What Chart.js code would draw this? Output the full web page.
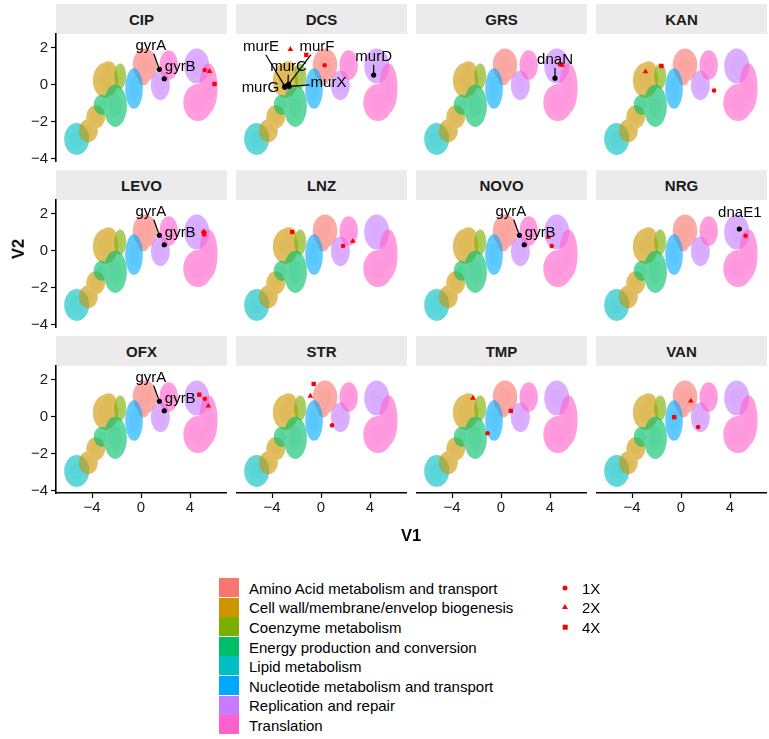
<!DOCTYPE html>
<html>
<head>
<meta charset="utf-8">
<script src="https://cdn.jsdelivr.net/npm/chart.js@4.4.1/dist/chart.umd.min.js"></script>
<style>
  html, body { margin: 0; background: #fff; }
  #fig { position: relative; width: 769px; height: 739px; overflow: hidden;
         font-family: "Liberation Sans", Arial, sans-serif; color: #000; }
  .strip { position: absolute; background: #ebebeb; font-weight: bold; font-size: 15px; color: #1a1a1a;
           display: flex; align-items: center; justify-content: center; }
  .panel { position: absolute; }
  .title { position: absolute; font-weight: bold; font-size: 16.5px; line-height: 1; }
  .lg-text { position: absolute; font-size: 15px; line-height: 1; white-space: nowrap; }
  .lg-key { position: absolute; }
</style>
</head>
<body>
<div id="fig"></div>
<script>
// Faceted UMAP of genes by functional category, one panel per drug.
// Red marks = dose level of the hit, black points = labelled target genes.

const drugs = ['CIP', 'DCS', 'GRS', 'KAN', 'LEVO', 'LNZ', 'NOVO', 'NRG', 'OFX', 'STR', 'TMP', 'VAN'];
const categories = [
  'Amino Acid metabolism and transport',
  'Cell wall/membrane/envelop biogenesis',
  'Coenzyme metabolism',
  'Energy production and conversion',
  'Lipid metabolism',
  'Nucleotide metabolism and transport',
  'Replication and repair',
  'Translation'
];
const categoryColors = ['#F8766D', '#CD9600', '#7CAE00', '#00BE67', '#00BFC4', '#00A9FF', '#C77CFF', '#FF61CC'];
const xTicks = [-4, 0, 4];
const yTicks = [-4, -2, 0, 2];
const xRange = [-6.94, 7.02];
const yRange = [-4.14, 2.73];
const doses = ['1X', '2X', '4X'];

// cluster extents in V1/V2 units: [centre V1, centre V2, half-width, half-height]
const blobAmino      = [[0.33, 1.05, 1.0, 0.9], [0.2, 0.3, 0.45, 0.35]];
const blobCellWall   = [[-2.9, 0.22, 1.03, 0.95], [-2.65, 0.8, 0.65, 0.45],
                        [-3.7, -1.75, 0.78, 0.62], [-4.3, -2.5, 0.78, 0.62]];
const blobCoenzyme   = [[-1.7, 0.45, 0.5, 0.68]];
const blobEnergy     = [[-2.1, -1.15, 0.95, 1.15], [-3.2, -1.1, 0.66, 0.55]];
const blobLipid      = [[-5.25, -2.95, 1.02, 0.86]];
const blobNucleotide = [[-0.57, -0.22, 0.72, 1.1]];
const blobReplication = [[1.58, -0.05, 0.78, 0.8], [4.55, 1.0, 1.02, 0.95]];
const blobTranslation = [[2.26, 1.05, 0.76, 0.8], [5.5, -0.2, 0.75, 1.35], [4.65, -0.98, 1.2, 1.0]];
const blobs = [blobAmino, blobCellWall, blobCoenzyme, blobEnergy, blobLipid, blobNucleotide, blobReplication, blobTranslation];
const blobDrawOrder = [4, 0, 1, 2, 3, 5, 6, 7];

// dose hits, one entry per drug (null = none)
const dose1xX = [5.2, 0.3, 4.8, 2.7, 5.1, 1.8, 4.14, 5.27, 5.2, 0.9, -1.1, 1.4];
const dose1xY = [0.78, 1.04, 1.1, -0.33, 0.98, 0.24, 0.24, 0.8, 0.96, -0.48, -0.91, -0.57];
const dose2xX = [5.6, -2.5, 5.0, -2.9, 5.15, 2.6, 3.86, null, 5.5, -0.87, -2.3, 0.8];
const dose2xY = [0.71, 1.9, 1.05, 0.69, 1.02, 0.5, 0.72, null, 0.57, 1.1, 0.99, 0.84];
const dose4xX = [6.0, -1.2, null, -1.6, 5.15, -2.35, null, null, 4.76, -0.6, 0.8, -0.55];
const dose4xY = [0.03, 1.6, null, 1.0, 0.88, 1.0, null, null, 1.18, 1.76, 0.3, -0.04];

// labelled genes
const geneDrug = ['CIP', 'CIP', 'DCS', 'DCS', 'DCS', 'DCS', 'DCS', 'DCS', 'GRS', 'LEVO', 'LEVO', 'NOVO', 'NOVO', 'NRG', 'OFX', 'OFX'];
const geneName = ['gyrA', 'gyrB', 'murE', 'murF', 'murC', 'murG', 'murX', 'murD', 'dnaN', 'gyrA', 'gyrB', 'gyrA', 'gyrB', 'dnaE1', 'gyrA', 'gyrB'];
const geneX = [1.5, 1.9, -2.95, -2.65, -2.7, -2.95, -2.6, 4.3, 4.41, 1.5, 1.9, 1.5, 1.9, 4.76, 1.5, 1.9];
const geneY = [0.82, 0.31, -0.1, 0.0, -0.05, -0.15, -0.1, 0.51, 0.34, 0.82, 0.31, 0.82, 0.31, 1.16, 0.82, 0.31];
const labelX = [0.8, 3.2, -4.9, -0.33, -2.65, -4.95, 0.61, 4.3, 4.41, 0.8, 3.2, 0.8, 3.2, 4.8, 0.8, 3.2];
const labelY = [2.1, 0.96, 2.04, 2.05, 0.96, -0.2, 0.06, 1.5, 1.32, 2.1, 0.96, 2.1, 0.96, 2.02, 2.1, 0.96];

// ---------- layout ----------
const FONT = '"Liberation Sans", Arial, sans-serif';
const PANEL_X = [56, 236, 416, 596];
const PANEL_W = 171;
const STRIP_Y = [4, 170, 336];
const STRIP_H = 30;
const PLOT_H = 127;
const AXIS_W = 40, AXIS_H = 30, PAD = 10;
const fig = document.getElementById('fig');

Chart.defaults.font.family = FONT;

function rgba(hex, a) {
  const n = parseInt(hex.slice(1), 16);
  return `rgba(${n >> 16},${(n >> 8) & 255},${n & 255},${a})`;
}
const fmtTick = v => String(v).replace('-', '\u2212');

const blobPlugin = {
  id: 'blobs',
  beforeDatasetsDraw(chart) {
    const { ctx, chartArea: a, scales: { x, y } } = chart;
    ctx.save();
    ctx.beginPath(); ctx.rect(a.left, a.top, a.right - a.left, a.bottom - a.top); ctx.clip();
    const pass = (scale, alpha) => blobDrawOrder.forEach(k => {
      ctx.beginPath();
      blobs[k].forEach(([cx, cy, rx, ry]) => {
        const px = x.getPixelForValue(cx), py = y.getPixelForValue(cy);
        const prx = Math.abs(x.getPixelForValue(cx + rx) - px) * scale;
        const pry = Math.abs(y.getPixelForValue(cy + ry) - py) * scale;
        ctx.moveTo(px + prx, py);
        ctx.ellipse(px, py, prx, pry, 0, 0, Math.PI * 2);
      });
      ctx.fillStyle = rgba(categoryColors[k], alpha);
      ctx.fill();
    });
    ctx.filter = 'blur(0.5px)';
    pass(1, 0.62);
    pass(0.55, 0.1);
    ctx.restore();
  }
};

const labelPlugin = {
  id: 'geneLabels',
  afterDatasetsDraw(chart, args, opts) {
    const { ctx, scales: { x, y } } = chart;
    ctx.save();
    ctx.font = '15px ' + FONT;
    ctx.textAlign = 'center';
    ctx.textBaseline = 'middle';
    ctx.strokeStyle = '#000';
    ctx.lineWidth = 1.2;
    const idx = geneName.map((_, g) => g).filter(g => geneDrug[g] === opts.drug);
    idx.forEach(g => {
      const px = x.getPixelForValue(geneX[g]), py = y.getPixelForValue(geneY[g]);
      const lx = x.getPixelForValue(labelX[g]), ly = y.getPixelForValue(labelY[g]);
      const hw = ctx.measureText(geneName[g]).width / 2 + 1, hh = 8;
      const dx = px - lx, dy = py - ly;
      const t = Math.min(dx ? hw / Math.abs(dx) : Infinity, dy ? hh / Math.abs(dy) : Infinity);
      if (t < 1) {
        const sx = lx + dx * t, sy = ly + dy * t;
        if (Math.hypot(px - sx, py - sy) > 8.5) {
          ctx.beginPath(); ctx.moveTo(sx, sy); ctx.lineTo(px, py); ctx.stroke();
        }
      }
    });
    ctx.fillStyle = '#000';
    idx.forEach(g => ctx.fillText(geneName[g], x.getPixelForValue(labelX[g]), y.getPixelForValue(labelY[g])));
    ctx.restore();
  }
};

function pt(xs, ys, i) { return xs[i] == null ? [] : [{ x: xs[i], y: ys[i] }]; }

function axisScale(show, range, ticks, horizontal) {
  return {
    type: 'linear', min: range[0], max: range[1], display: show,
    position: horizontal ? 'bottom' : 'left',
    afterBuildTicks: s => { s.ticks = ticks.map(v => ({ value: v })); },
    afterFit: s => {
      if (horizontal) { s.height = show ? AXIS_H : 0; s.paddingLeft = 0; s.paddingRight = 0; }
      else { s.width = show ? AXIS_W : 0; s.paddingTop = 0; s.paddingBottom = 0; }
    },
    grid: { drawOnChartArea: false, tickLength: 5, tickColor: '#000', tickWidth: 1.2 },
    border: { color: '#000', width: 1.6 },
    ticks: { color: '#1a1a1a', font: { size: 15 }, padding: horizontal ? 1 : 3,
             maxRotation: 0, autoSkip: false, callback: v => fmtTick(v) }
  };
}

function makePanel(i) {
  const col = i % 4, row = Math.floor(i / 4);
  const showY = col === 0, showX = row === 2;

  const strip = document.createElement('div');
  strip.className = 'strip';
  Object.assign(strip.style, { left: PANEL_X[col] + 'px', top: STRIP_Y[row] + 'px', width: PANEL_W + 'px', height: STRIP_H + 'px' });
  strip.textContent = drugs[i];
  fig.appendChild(strip);

  const wrap = document.createElement('div');
  wrap.className = 'panel';
  Object.assign(wrap.style, {
    left: (PANEL_X[col] - (showY ? AXIS_W : 0)) + 'px',
    top: (STRIP_Y[row] + STRIP_H - PAD) + 'px',
    width: (PANEL_W + (showY ? AXIS_W : 0)) + 'px',
    height: (PLOT_H + 2 * PAD + (showX ? AXIS_H : 0)) + 'px'
  });
  const canvas = document.createElement('canvas');
  wrap.appendChild(canvas);
  fig.appendChild(wrap);

  const blackPts = geneName.map((_, g) => g).filter(g => geneDrug[g] === drugs[i]).map(g => ({ x: geneX[g], y: geneY[g] }));

  new Chart(canvas, {
    type: 'scatter',
    data: {
      datasets: [
        { label: '1X', data: pt(dose1xX, dose1xY, i), pointStyle: 'circle', pointRadius: 2.3, backgroundColor: '#FF0000', borderWidth: 0 },
        { label: '2X', data: pt(dose2xX, dose2xY, i), pointStyle: 'triangle', pointRadius: 3.3, backgroundColor: '#FF0000', borderWidth: 0 },
        { label: '4X', data: pt(dose4xX, dose4xY, i), pointStyle: 'rect', pointRadius: 3.1, backgroundColor: '#FF0000', borderWidth: 0 },
        { label: 'genes', data: blackPts, pointStyle: 'circle', pointRadius: 2.6, backgroundColor: '#000', borderWidth: 0 }
      ]
    },
    options: {
      responsive: true, maintainAspectRatio: false, animation: false, events: [],
      layout: { autoPadding: false, padding: { top: PAD, bottom: PAD, left: 0, right: 0 } },
      plugins: { legend: { display: false }, tooltip: { enabled: false }, geneLabels: { drug: drugs[i] } },
      scales: {
        x: axisScale(showX, xRange, xTicks, true),
        y: axisScale(showY, yRange, yTicks, false)
      }
    },
    plugins: [blobPlugin, labelPlugin]
  });
}

drugs.forEach((_, i) => makePanel(i));

// ---------- axis titles ----------
function addText(cls, txt, css) {
  const d = document.createElement('div');
  d.className = cls; d.textContent = txt;
  Object.assign(d.style, css);
  fig.appendChild(d);
  return d;
}
addText('title', 'V1', { left: '411px', top: '535px', transform: 'translate(-50%,-50%)' });
addText('title', 'V2', { left: '18px', top: '249px', transform: 'translate(-50%,-50%) rotate(-90deg)' });

// ---------- legends ----------
const LG_TOP = 578, LG_ROW = 19.6;
categories.forEach((name, k) => {
  const key = document.createElement('div');
  key.className = 'lg-key';
  Object.assign(key.style, { left: '219px', top: (LG_TOP + k * LG_ROW) + 'px', width: '20px', height: (LG_ROW - 0.6) + 'px', background: categoryColors[k] });
  fig.appendChild(key);
  addText('lg-text', name, { left: '249px', top: (LG_TOP + k * LG_ROW + LG_ROW / 2) + 'px', transform: 'translateY(-50%)' });
});

const shapeCss = [
  { width: '5px', height: '5px', borderRadius: '50%', background: '#FF0000', transform: 'translate(-50%,-50%)' },
  { width: '0', height: '0', borderLeft: '3.2px solid transparent', borderRight: '3.2px solid transparent', borderBottom: '5.6px solid #FF0000', transform: 'translate(-50%,-60%)' },
  { width: '4.6px', height: '4.6px', background: '#FF0000', transform: 'translate(-50%,-50%)' }
];
doses.forEach((d, k) => {
  const cy = LG_TOP + k * LG_ROW + LG_ROW / 2;
  const s = document.createElement('div');
  s.className = 'lg-key';
  Object.assign(s.style, { left: '565px', top: cy + 'px' }, shapeCss[k]);
  fig.appendChild(s);
  addText('lg-text', d, { left: '582px', top: cy + 'px', transform: 'translateY(-50%)' });
});
</script>
</body>
</html>
